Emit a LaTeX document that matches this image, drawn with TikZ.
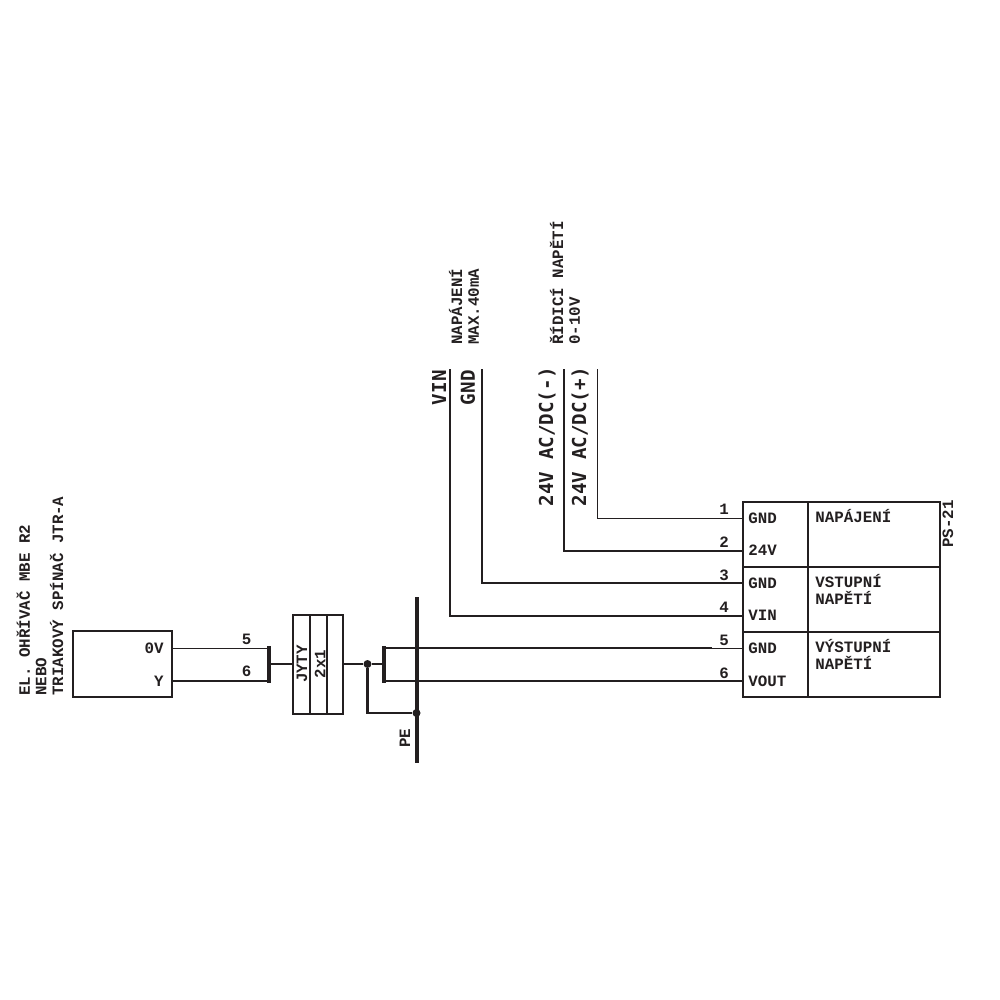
\documentclass[tikz,border=0pt]{standalone}
\usepackage{fontspec}
\usepackage{tikz}
\setmainfont{Liberation Mono}
\newfontfamily\bigmono{DejaVu Sans Mono}
\definecolor{ink}{HTML}{231F20}
\tikzset{
  thinwire/.style={draw=ink, line width=0.45pt},
  midwire/.style={draw=ink, line width=0.8pt},
  thickwire/.style={draw=ink, line width=1.2pt},
  busbar/.style={draw=ink, line width=2pt},
  boxpart/.style={shape=rectangle, draw=ink, line width=1pt, inner sep=0pt},
  joint/.style={shape=circle, fill=ink, inner sep=0pt, minimum size=4pt},
  lbl/.style={text=ink, font=\fontsize{7.9}{8.3}\selectfont\bfseries, inner sep=0pt},
  vlbl/.style={lbl, rotate=90, anchor=west, align=left},
  biglbl/.style={text=ink, font=\bigmono\fontsize{9.6}{10}\selectfont\bfseries, inner sep=0pt, rotate=90, anchor=east}
}
\begin{document}
\begin{tikzpicture}[x=0.5pt, y=-0.5pt]
\useasboundingbox (0,0) rectangle (1000,1000);

% load on the left
\node[boxpart, minimum width=49.5pt, minimum height=33pt](heater) at (122.5,664){};
\node[vlbl](heaterText) at (40,696) {EL. OHŘÍVAČ MBE R2\\NEBO\\TRIAKOVÝ SPÍNAČ JTR-A};
\node[lbl, anchor=east](heaterA) at (164,648) {0V};
\node[lbl, anchor=east](heaterB) at (164,681) {Y};
\coordinate (h5) at (172,648);
\coordinate (h6) at (172,681);
\coordinate (j5) at (269,648);
\coordinate (j6) at (269,681);
\coordinate (jTop) at (269,646);
\coordinate (jBot) at (269,683);
\coordinate (jMid) at (269,664);

\path[thinwire] (h5) edge node[lbl, pos=.77, above=1.5pt] {5} (j5);
\path[thickwire] (h6) edge node[lbl, pos=.77, above=1.5pt] {6} (j6);
\path[busbar] (jTop) edge (jBot);

% cable
\node[boxpart, minimum width=25pt, minimum height=49.5pt](cable) at (318,664){};
\node[boxpart, minimum width=8.5pt, minimum height=49.5pt](cableMid) at (318.5,664){};
\node[lbl, rotate=90](cableName) at (302,664) {JYTY};
\node[lbl, rotate=90](cableSize) at (320,664) {2x1};
\path[thickwire] (jMid) edge (cable.west);

% earth bus
\coordinate (peTop) at (416.5,597);
\coordinate (peBot) at (416.5,763);
\node[joint](earth) at (416.5,713){};
\node[joint](split) at (367.5,664){};
\node[lbl, rotate=90](peName) at (405,738) {PE};
\coordinate (sTop) at (384,646);
\coordinate (sBot) at (384,683);
\coordinate (sMid) at (384,664);
\coordinate (s5) at (384,648);
\coordinate (s6) at (384,681);
\path[busbar] (peTop) edge (peBot);
\path[thickwire] (cable.east) edge (split);
\path[thickwire] (split) edge (sMid);
\path[busbar] (sTop) edge (sBot);
\draw[thickwire] (split) |- (earth);

% module
\node[boxpart, minimum width=98.5pt, minimum height=97.5pt](module) at (841.5,599.5){};
\node[boxpart, minimum width=98.5pt, minimum height=32.5pt](midRow) at (841.5,599.5){};
\draw[boxpart] (module.north west) ++(33pt,0) coordinate (divTop) -- (divTop |- module.south);
\node[lbl, rotate=90, anchor=west](moduleName) at (948,548) {PS-21};

\coordinate (p1) at (743,518);
\coordinate (p2) at (743,551);
\coordinate (p3) at (743,583);
\coordinate (p4) at (743,616);
\coordinate (p5) at (743,648);
\coordinate (p6) at (743,681);
\coordinate (thick5) at (712,648);

\node[lbl, anchor=west](t1) at (748,518) {GND};
\node[lbl, anchor=west](t2) at (748,550) {24V};
\node[lbl, anchor=west](t3) at (748,583) {GND};
\node[lbl, anchor=west](t4) at (748,615) {VIN};
\node[lbl, anchor=west](t5) at (748,648) {GND};
\node[lbl, anchor=west](t6) at (748,681) {VOUT};

\node[lbl, anchor=north west, align=left](r1) at (815,509) {NAPÁJENÍ};
\node[lbl, anchor=north west, align=left](r2) at (815,574) {VSTUPNÍ\\NAPĚTÍ};
\node[lbl, anchor=north west, align=left](r3) at (815,639) {VÝSTUPNÍ\\NAPĚTÍ};

\node[lbl](n1) at (724,509) {1};
\node[lbl](n2) at (724,542) {2};
\node[lbl](n3) at (724,575) {3};
\node[lbl](n4) at (724,607) {4};
\node[lbl](n5) at (724,640) {5};
\node[lbl](n6) at (724,673) {6};

% supply and control wires
\coordinate (vinEnd) at (450,369);
\coordinate (gndEnd) at (482,369);
\coordinate (acMinus) at (564,369);
\coordinate (acPlus) at (597,369);
\draw[midwire] (vinEnd) |- (p4);
\draw[midwire] (gndEnd) |- (p3);
\draw[thickwire] (acMinus) |- (p2);
\draw[thinwire] (acPlus) |- (p1);
\path[thickwire] (s5) edge (thick5);
\path[thinwire] (thick5) edge (p5);
\path[thickwire] (s6) edge (p6);

\node[biglbl](vinName) at (439,370) {VIN};
\node[biglbl](gndName) at (468,370) {GND};
\node[biglbl](minusName) at (547,367) {24V AC/DC(-)};
\node[biglbl](plusName) at (580,367) {24V AC/DC(+)};
\node[vlbl](supplyText) at (464,345) {NAPÁJENÍ\\MAX.40mA};
\node[vlbl](controlText) at (565,345) {ŘÍDICÍ NAPĚTÍ\\0-10V};
\end{tikzpicture}
\end{document}
